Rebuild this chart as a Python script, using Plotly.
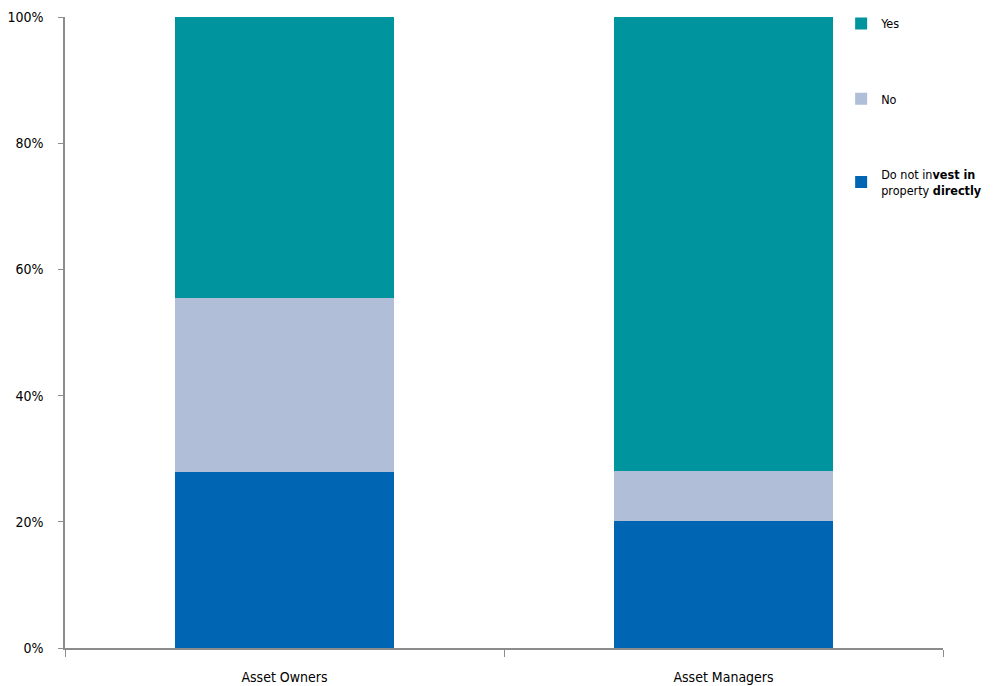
import plotly.graph_objects as go

categories = ["Asset Owners", "Asset Managers"]
do_not_invest = [27.9, 20.1]
no_vals = [27.6, 7.9]
yes_vals = [44.5, 72.0]
y_ticks = [0, 20, 40, 60, 80, 100]
y_tick_labels = ["0%", "20%", "40%", "60%", "80%", "100%"]

series = [
    ("Do not in<b>vest in</b><br>property <b>directly</b>", do_not_invest, "#0066B3", 3),
    ("No", no_vals, "#B0BED8", 2),
    ("Yes", yes_vals, "#00949F", 1),
]

fig = go.Figure()
for i, (name, vals, color, rank) in enumerate(series):
    fig.add_trace(go.Bar(
        x=categories, y=vals, name=name, marker=dict(color=color, line=dict(width=0)),
        width=0.5, legendgroup=str(i), legendrank=rank,
    ))

font_family = "DejaVu Sans Condensed, sans-serif"
fig.update_layout(
    barmode="stack",
    width=985, height=678,
    margin=dict(l=57, r=50, t=9, b=38, autoexpand=False),
    plot_bgcolor="white", paper_bgcolor="white",
    font=dict(family=font_family, size=14, color="#000000"),
    legend=dict(
        x=0.884, y=1.013, xanchor="left", yanchor="top",
        traceorder="grouped", tracegroupgap=56,
        font=dict(size=12.5, color="#000000"),
        bgcolor="rgba(0,0,0,0)", itemwidth=30,
    ),
    xaxis=dict(
        showline=True, linecolor="#8c8c8c", linewidth=1.5,
        ticks="outside", tickson="boundaries", ticklen=7, tickcolor="#8c8c8c",
        tickfont=dict(size=14, family=font_family), ticklabelstandoff=15,
    ),
    yaxis=dict(
        range=[0, 100], showgrid=False, zeroline=False,
        showline=True, linecolor="#8c8c8c", linewidth=1.5,
        ticks="outside", ticklen=5, tickcolor="#8c8c8c",
        tickvals=y_ticks, ticktext=y_tick_labels,
        tickfont=dict(size=14, family=font_family), ticklabelstandoff=12,
    ),
    bargap=0.5,
)

fig.write_html("out.html")
